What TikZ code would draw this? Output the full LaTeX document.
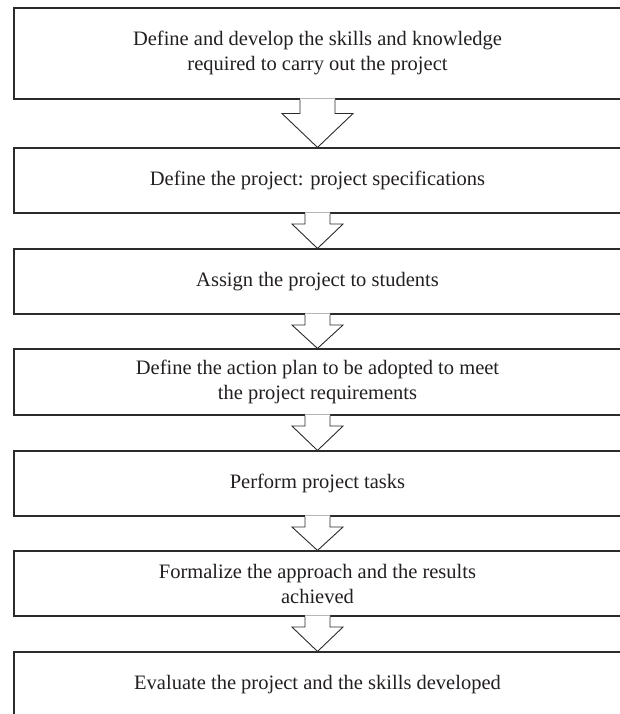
\documentclass[tikz,border=0pt]{standalone}
\usepackage{fontspec}
\setmainfont{Liberation Serif}
\usetikzlibrary{calc}

\definecolor{edge}{HTML}{2B2B2B}
\definecolor{ink}{HTML}{231F20}

\tikzset{
  stagebox/.style={draw=edge, line width=1.1pt, fill=white, rectangle,
    minimum width=607pt, inner sep=0pt, align=center, text=ink,
    font=\fontsize{20.5}{25}\selectfont},
  blockarrow/.style={draw=edge, line width=0.9pt, line join=miter},
}

% hollow block arrow from the bottom of #1 to the top of #2;
% #3 = half shaft width, #4 = shaft length, #5 = half head width
\newcommand\blockarrow[5]{%
  \fill[white] ($(#1.south)+(-#3,1.2)$) -- ($(#1.south)+(-#3,-#4)$)
    -- ($(#1.south)+(-#5,-#4)$) -- (#2.north) -- ($(#1.south)+(#5,-#4)$)
    -- ($(#1.south)+(#3,-#4)$) -- ($(#1.south)+(#3,1.2)$) -- cycle;
  \draw[blockarrow] ($(#1.south)+(-#3,0)$) -- ($(#1.south)+(-#3,-#4)$)
    -- ($(#1.south)+(-#5,-#4)$) -- (#2.north) -- ($(#1.south)+(#5,-#4)$)
    -- ($(#1.south)+(#3,-#4)$) -- ($(#1.south)+(#3,0)$);
}

\begin{document}
\begin{tikzpicture}[x=1pt,y=1pt]
  \useasboundingbox (0,0) rectangle (620,714);

  \node[stagebox, minimum height=91pt] (s1) at (317.5,660.5)
    {Define and develop the skills and knowledge\\required to carry out the project};
  \node[stagebox, minimum height=65pt] (s2) at (317.5,533.5)
    {Define the project: project specifications};
  \node[stagebox, minimum height=65pt] (s3) at (317.5,432.5)
    {Assign the project to students};
  \node[stagebox, minimum height=66pt] (s4) at (317.5,332)
    {Define the action plan to be adopted to meet\\the project requirements};
  \node[stagebox, minimum height=65pt] (s5) at (317.5,230.5)
    {Perform project tasks};
  \node[stagebox, minimum height=65pt] (s6) at (317.5,130.5)
    {Formalize the approach and the results\\achieved};
  \node[stagebox, minimum height=65pt] (s7) at (317.5,29.5)
    {Evaluate the project and the skills developed};

  \blockarrow{s1}{s2}{17.5}{14}{35.5}
  \blockarrow{s2}{s3}{12.5}{10.5}{25.5}
  \blockarrow{s3}{s4}{12.5}{10.5}{25.5}
  \blockarrow{s4}{s5}{12.5}{10.5}{25.5}
  \blockarrow{s5}{s6}{12.5}{10.5}{25.5}
  \blockarrow{s6}{s7}{12.5}{10.5}{25.5}
\end{tikzpicture}
\end{document}
